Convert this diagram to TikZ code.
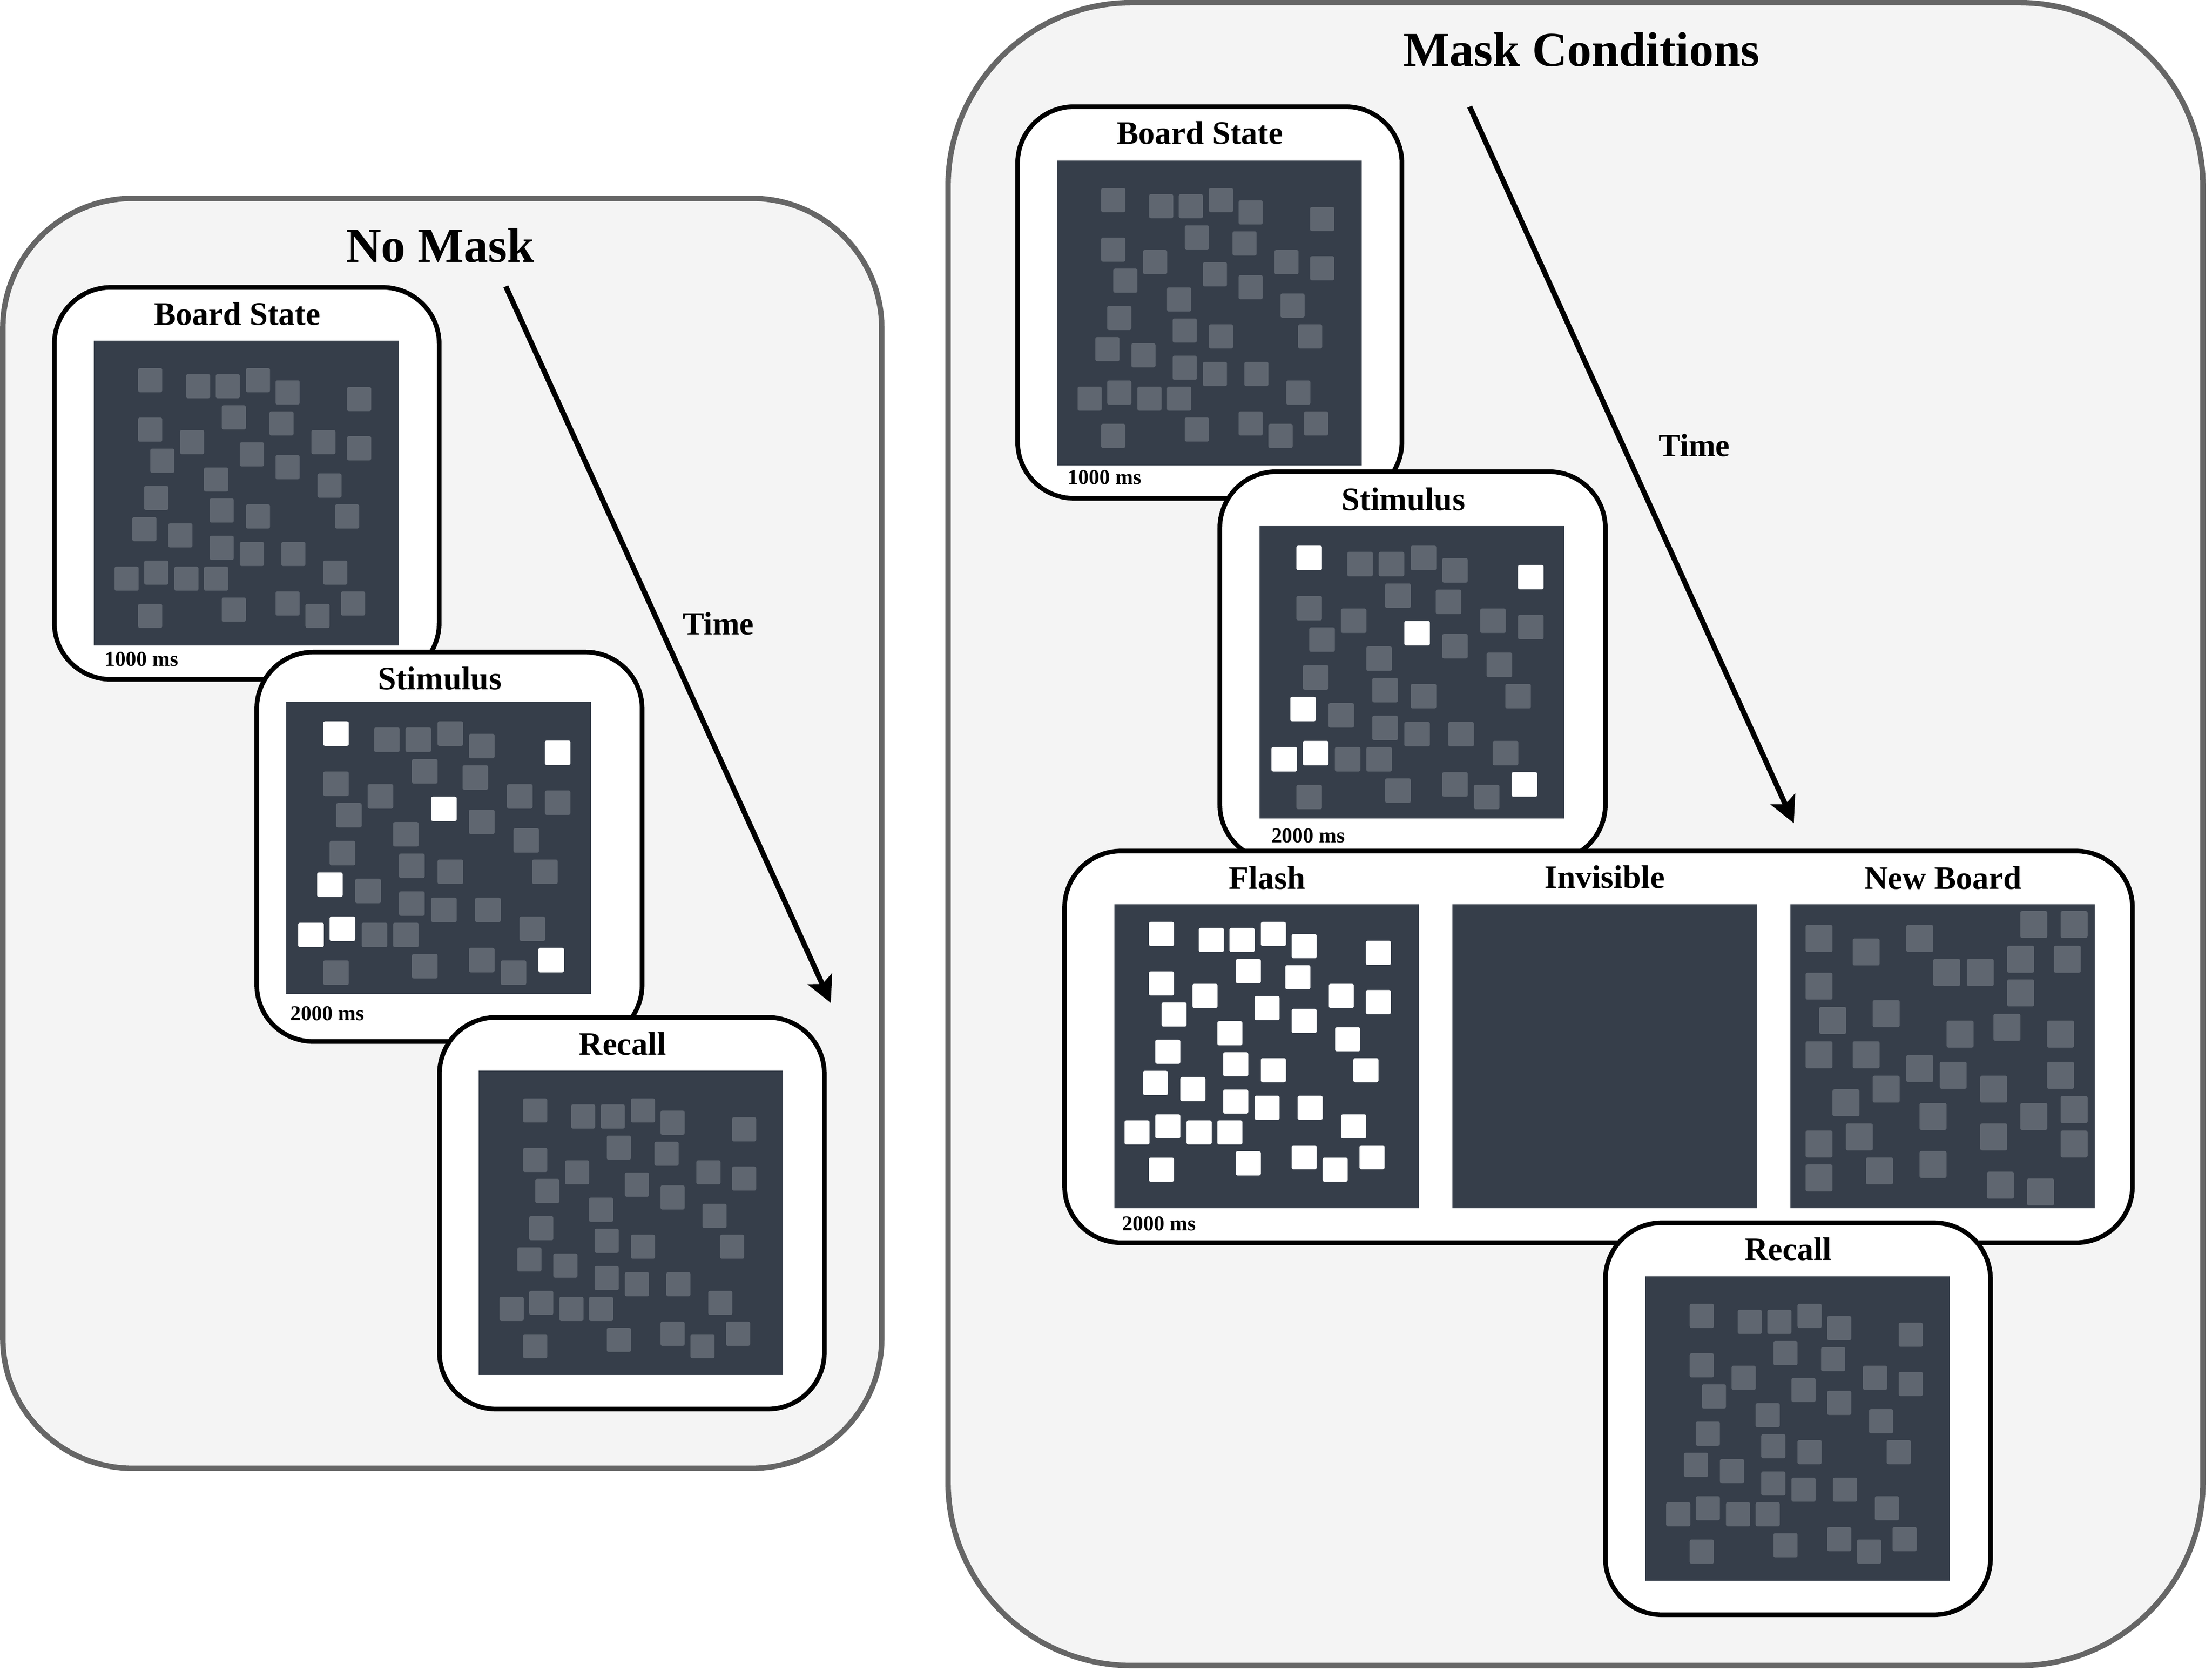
\documentclass[tikz,border=0pt]{standalone}
\usepackage{fontspec}
\setmainfont{Liberation Serif}
\usetikzlibrary{arrows.meta}

\definecolor{boardcol}{RGB}{54,62,74}
\definecolor{piececol}{RGB}{95,102,112}
\definecolor{areacol}{RGB}{244,244,244}
\definecolor{edgecol}{RGB}{102,102,102}

% pieces of the shown board (top left corners), the cued ones apart
\newcommand{\plainpieces}{65.4/23.8, 86.4/23.8, 107.8/19.5, 128.8/28.2, 90.7/45.9, 124.5/50.2,
  31.4/54.6, 61.1/63.4, 154.2/63.4, 179.5/67.8, 40.0/76.6, 128.8/81.2, 78.1/89.9, 158.5/94.2,
  35.7/103.0, 82.1/111.9, 107.8/116.1, 171.0/116.1, 52.8/129.5, 82.1/138.3, 103.5/142.7,
  132.9/142.7, 57.1/160.2, 78.1/160.2, 162.6/155.9, 31.4/186.6, 90.7/182.1, 128.8/177.8, 150.0/186.6}
\newcommand{\cuedpieces}{31.4/19.5, 179.5/32.9, 103.5/72.1, 27.3/125.1, 14.7/160.2, 35.7/155.9, 175.2/177.8}
% pieces of the new board
\newcommand{\newpieces}{10.6/14.7, 44.0/24.3, 82.0/14.7, 162.8/4.8, 191.4/4.8, 101.1/38.8, 124.9/38.8,
  153.5/29.4, 186.6/29.4, 10.6/48.5, 153.5/53.3, 20.3/72.8, 58.2/68.0, 110.6/82.5, 143.8/77.7,
  181.8/82.5, 10.6/97.2, 44.0/97.2, 82.0/106.9, 105.7/111.7, 181.8/111.7, 58.2/121.5, 134.4/121.5,
  29.7/131.2, 91.4/140.9, 162.8/140.9, 191.4/136.0, 10.6/160.4, 39.2/155.4, 134.4/155.4, 191.4/160.4,
  10.6/184.5, 53.5/179.5, 91.4/174.9, 139.2/189.6, 167.6/194.4}

\begin{document}
\begin{tikzpicture}[x=0.03cm, y=-0.03cm,
    area/.style={draw=edgecol, fill=areacol, line width=3.3pt},
    card/.style={draw=black, fill=white, line width=2.8pt, rounded corners=1.2cm},
    board/.style={fill=boardcol},
    piece/.style={fill=piececol, rounded corners=1pt},
    litpiece/.style={fill=white, rounded corners=1pt},
    areatitle/.style={font=\fontsize{29.5}{34}\selectfont\bfseries, anchor=base, inner sep=0pt},
    cardtitle/.style={font=\fontsize{19.8}{24}\selectfont\bfseries, anchor=base, inner sep=0pt},
    mstext/.style={font=\fontsize{12.8}{15}\selectfont\bfseries, anchor=base west, inner sep=0pt},
    timetext/.style={font=\fontsize{19.5}{24}\selectfont\bfseries, anchor=base west, inner sep=0pt},
    timearrow/.style={line width=3.2pt, -{Stealth[length=0.56cm, width=0.56cm, inset=0.12cm]}}]
    \useasboundingbox (0,0) rectangle (1567.9,1184.3);
    \fill[white] (0,0) rectangle (1567.9,1184.3);

    % No Mask
    \draw[area, rounded corners=2.76cm] (2,140.6) rectangle (625,1040.7);
    \node[areatitle] (nomask) at (312,185.8) {No Mask};

    \draw[card] (38.5,203.7) rectangle (311.3,481.5);
    \fill[board] (66.5,241.4) rectangle ++(216,216);
    \begin{scope}[shift={(66.5,241.4)}]
        \foreach \x/\y in \plainpieces {\fill[piece] (\x,\y) rectangle ++(17.1,17.1);}
        \foreach \x/\y in \cuedpieces {\fill[piece] (\x,\y) rectangle ++(17.1,17.1);}
    \end{scope}
    \node[cardtitle] (nmstate) at (168.2,230.3) {Board State};
    \node[mstext] (nmstatems) at (74,472.2) {1000 ms};

    \draw[card] (182,462.2) rectangle (455.1,738.2);
    \fill[board] (203,497.2) rectangle ++(216,207.4);
    \begin{scope}[shift={(195.8,491.5)}, xscale=1.0607, yscale=1.0142]
        \foreach \x/\y in \plainpieces {\fill[piece] (\x,\y) rectangle ++(17.1,17.1);}
        \foreach \x/\y in \cuedpieces {\fill[litpiece] (\x,\y) rectangle ++(17.1,17.1);}
    \end{scope}
    \node[cardtitle] (nmstim) at (311.7,488.8) {Stimulus};
    \node[mstext] (nmstimms) at (205.7,723.3) {2000 ms};

    \draw[card] (311.5,721.1) rectangle (584.3,998.7);
    \fill[board] (339.4,759.0) rectangle ++(215.7,215.7);
    \begin{scope}[shift={(339.4,759.0)}]
        \foreach \x/\y in \plainpieces {\fill[piece] (\x,\y) rectangle ++(17.1,17.1);}
        \foreach \x/\y in \cuedpieces {\fill[piece] (\x,\y) rectangle ++(17.1,17.1);}
    \end{scope}
    \node[cardtitle] (nmrecall) at (441.3,747.8) {Recall};

    \coordinate (nmstart) at (358.5,203.0);
    \coordinate (nmend) at (588.9,710.9);
    \draw[timearrow] (nmstart) -- (nmend);
    \node[timetext] (nmtime) at (483.8,449.8) {Time};

    % Mask Conditions
    \draw[area, rounded corners=3.9cm] (672,1.9) rectangle (1561.5,1180.5);
    \node[areatitle] (mask) at (1121.1,46.9) {Mask Conditions};

    \draw[card] (721.3,75.6) rectangle (993.7,353.2);
    \fill[board] (749.1,113.8) rectangle ++(216,216);
    \begin{scope}[shift={(749.1,113.8)}]
        \foreach \x/\y in \plainpieces {\fill[piece] (\x,\y) rectangle ++(17.1,17.1);}
        \foreach \x/\y in \cuedpieces {\fill[piece] (\x,\y) rectangle ++(17.1,17.1);}
    \end{scope}
    \node[cardtitle] (mstate) at (850.5,102.1) {Board State};
    \node[mstext] (mstatems) at (756.7,343.1) {1000 ms};

    \draw[card] (864.6,334.3) rectangle (1137.9,610.3);
    \fill[board] (892.8,372.7) rectangle ++(216,207.3);
    \begin{scope}[shift={(885.6,367.0)}, xscale=1.0607, yscale=1.0142]
        \foreach \x/\y in \plainpieces {\fill[piece] (\x,\y) rectangle ++(17.1,17.1);}
        \foreach \x/\y in \cuedpieces {\fill[litpiece] (\x,\y) rectangle ++(17.1,17.1);}
    \end{scope}
    \node[cardtitle] (mstim) at (994.7,361.7) {Stimulus};
    \node[mstext] (mstimms) at (901.0,597.2) {2000 ms};

    % the three masks
    \draw[card] (754.6,603.2) rectangle (1511.5,880.8);
    \fill[board] (790,640.9) rectangle ++(215.7,215.6);
    \begin{scope}[shift={(781.8,633.9)}, xscale=1.038]
        \foreach \x/\y in \plainpieces {\fill[litpiece] (\x,\y) rectangle ++(17.1,17.1);}
        \foreach \x/\y in \cuedpieces {\fill[litpiece] (\x,\y) rectangle ++(17.1,17.1);}
    \end{scope}
    \node[cardtitle] (flash) at (898.1,630.0) {Flash};
    \node[mstext] (flashms) at (795.3,872.1) {2000 ms};

    \fill[board] (1029.5,641.0) rectangle ++(215.8,215.4);
    \node[cardtitle] (invisible) at (1137.4,629.4) {Invisible};

    \fill[board] (1269.2,640.9) rectangle ++(215.7,215.6);
    \begin{scope}[shift={(1269.2,640.9)}]
        \foreach \x/\y in \newpieces {\fill[piece] (\x,\y) rectangle ++(19.1,19.1);}
    \end{scope}
    \node[cardtitle] (newboard) at (1377.2,630.0) {New Board};

    \draw[card] (1137.9,866.7) rectangle (1410.9,1144.5);
    \fill[board] (1166.3,904.6) rectangle ++(215.6,215.8);
    \begin{scope}[shift={(1166.3,904.6)}]
        \foreach \x/\y in \plainpieces {\fill[piece] (\x,\y) rectangle ++(17.1,17.1);}
        \foreach \x/\y in \cuedpieces {\fill[piece] (\x,\y) rectangle ++(17.1,17.1);}
    \end{scope}
    \node[cardtitle] (mrecall) at (1267.4,893.1) {Recall};

    \coordinate (mstart) at (1041.7,75.6);
    \coordinate (mend) at (1271.5,583.5);
    \draw[timearrow] (mstart) -- (mend);
    \node[timetext] (mtime) at (1175.6,323.4) {Time};
\end{tikzpicture}
\end{document}
